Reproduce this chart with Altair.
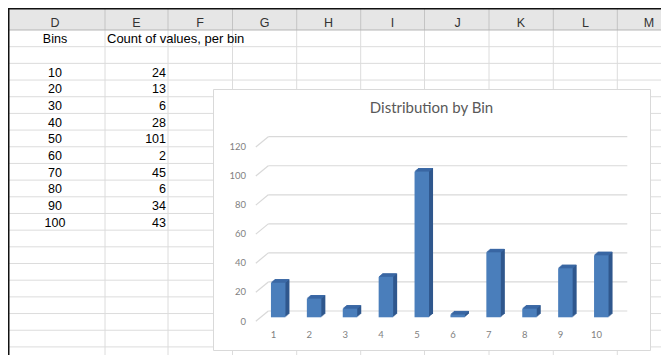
import altair as alt
import pandas as pd

# ---------------- values ----------------
bins = [10, 20, 30, 40, 50, 60, 70, 80, 90, 100]
counts = [24, 13, 6, 28, 101, 2, 45, 6, 34, 43]
bin_numbers = [1, 2, 3, 4, 5, 6, 7, 8, 9, 10]
y_ticks = [0, 20, 40, 60, 80, 100, 120]
col_letters = ["D", "E", "F", "G", "H", "I", "J", "K", "L", "M"]
bins_header = "Bins"
count_header = "Count of values, per bin"
chart_title = "Distribution by Bin"

# ---------------- layout (screenshot pixels, page margin 8) ----------------
M = 8
W, H = 653, 347
col_edges = [105, 168, 232.5, 296.7, 360.7, 424.5, 489, 553.3, 617.3]
letter_x = [55, 136.5, 200, 264.5, 328.5, 392.5, 457.5, 521, 585.5, 649]
ROW0, PITCH, N_ROWS = 30, 16.68, 19

SHEET_FONT = "Liberation Sans"
SHEET_SIZE = 12.5
CHART_FONT = "Lato"
FRONT, SIDE, TOP = "#4a7ebb", "#2f578d", "#3b69a6"
GRID = "#d9d9d9"
SHEET_LINE = "#dcdcdc"

px_x = alt.Scale(domain=[M, W + M], range=[0, W], nice=False, zero=False)
row_y = alt.Scale(domain=[0, N_ROWS], range=[ROW0 - M, ROW0 + PITCH * N_ROWS - M],
                  nice=False, zero=False)

one = pd.DataFrame({"t": [chart_title]})

# ---------------- spreadsheet ----------------
header_bg = alt.Chart(one).mark_rect(color="#e6e6e6").encode(
    x=alt.value(0), x2=alt.value(W), y=alt.value(0), y2=alt.value(22))

edges_df = pd.DataFrame({"edge": col_edges})
vlines = alt.Chart(edges_df).mark_rule(color=SHEET_LINE, strokeWidth=1).encode(
    x=alt.X("edge:Q", scale=px_x, axis=None), y=alt.value(22), y2=alt.value(H))
hsep = alt.Chart(edges_df).mark_rule(color="#c4c4c4", strokeWidth=1).encode(
    x=alt.X("edge:Q", scale=px_x, axis=None), y=alt.value(1), y2=alt.value(22))

rows_df = pd.DataFrame({"row": list(range(1, N_ROWS + 1))})
hlines = alt.Chart(rows_df).mark_rule(color=SHEET_LINE, strokeWidth=1).encode(
    y=alt.Y("row:Q", scale=row_y, axis=None), x=alt.value(0), x2=alt.value(W))
header_line = alt.Chart(one).mark_rule(color="#b5b5b5", strokeWidth=1).encode(
    y=alt.value(22), x=alt.value(0), x2=alt.value(W))
top_border = alt.Chart(one).mark_rule(color="#111111", strokeWidth=1.5).encode(
    y=alt.value(0.75), x=alt.value(0), x2=alt.value(W))
left_border = alt.Chart(one).mark_rule(color="#111111", strokeWidth=1.5).encode(
    x=alt.value(0.75), y=alt.value(0), y2=alt.value(H))

letters_df = pd.DataFrame({"letter": col_letters, "lx": letter_x})
letters = alt.Chart(letters_df).mark_text(
    font=SHEET_FONT, fontSize=SHEET_SIZE, color="#333333", align="center", baseline="middle"
).encode(x=alt.X("lx:Q", scale=px_x, axis=None), y=alt.value(15), text="letter:N")

d_df = pd.DataFrame({
    "pos": [0.5] + [r + 0.5 for r in range(2, 12)],
    "label": [bins_header] + [str(b) for b in bins],
})
col_d = alt.Chart(d_df).mark_text(
    font=SHEET_FONT, fontSize=SHEET_SIZE, color="black", align="center", baseline="middle", dy=1
).encode(x=alt.value(55 - M), y=alt.Y("pos:Q", scale=row_y, axis=None), text="label:N")

e_df = pd.DataFrame({"pos": [r + 0.5 for r in range(2, 12)], "label": [str(c) for c in counts]})
col_e = alt.Chart(e_df).mark_text(
    font=SHEET_FONT, fontSize=SHEET_SIZE, color="black", align="right", baseline="middle", dy=1
).encode(x=alt.value(166 - M), y=alt.Y("pos:Q", scale=row_y, axis=None), text="label:N")

eh_df = pd.DataFrame({"pos": [0.5], "label": [count_header]})
col_e_head = alt.Chart(eh_df).mark_text(
    font=SHEET_FONT, fontSize=SHEET_SIZE + 0.5, color="black", align="left", baseline="middle", dy=1
).encode(x=alt.value(107 - M), y=alt.Y("pos:Q", scale=row_y, axis=None), text="label:N")

# ---------------- embedded chart ----------------
frame = alt.Chart(one).mark_rect(fill="white", stroke="#d9d9d9", strokeWidth=1).encode(
    x=alt.value(205.5), x2=alt.value(642.5), y=alt.value(81.5), y2=alt.value(342.5))

title = alt.Chart(one).mark_text(
    font=CHART_FONT, fontSize=15, color="#595959", align="center", baseline="middle"
).encode(x=alt.value(423.5), y=alt.value(100.3), text="t:N")

ticks_df = pd.DataFrame({"tick": y_ticks})
grid_y = alt.Scale(domain=[0, 120], range=[303, 128.7], nice=False, zero=False)
gridlines = alt.Chart(ticks_df).mark_rule(color=GRID, strokeWidth=1.2).encode(
    y=alt.Y("tick:Q", scale=grid_y, axis=alt.Axis(
        values=y_ticks, orient="left", offset=-237.5, domain=False, ticks=False,
        tickSize=0, grid=False, labelPadding=0, labelOffset=10, labelFont=CHART_FONT,
        labelFontSize=9.5, labelColor="#7f7f7f", labelBaseline="middle", title=None,
        labelOverlap=False, zindex=2)),
    x=alt.value(260.3), x2=alt.value(619.3))
diagonals = alt.Chart(ticks_df).mark_rule(color=GRID, strokeWidth=1.2, y2Offset=10.3).encode(
    y=alt.Y("tick:Q", scale=grid_y, axis=None), y2="tick:Q",
    x=alt.value(260.3), x2=alt.value(247.8))

bars_df = pd.DataFrame({"bin_no": bin_numbers, "count": counts})
bar_x = alt.Scale(domain=bin_numbers, range=[252.25, 611.25], paddingInner=0, paddingOuter=0)
bar_y = alt.Scale(domain=[0, 120], range=[309.3, 136.1], nice=False, zero=True)
BW = 14.5
DX, DY = 4.0, 3.4

side_layers = []
for k in [1, 2, 3, 4]:
    side_layers.append(alt.Chart(bars_df).mark_bar(
        width=BW, color=SIDE, xOffset=DX * k / 4, x2Offset=DX * k / 4,
        yOffset=-DY * k / 4, y2Offset=-DY * k / 4
    ).encode(x=alt.X("bin_no:O", scale=bar_x, axis=None),
             y=alt.Y("count:Q", scale=bar_y, axis=None)))

top_layers = []
for k in [1, 2, 3, 4]:
    top_layers.append(alt.Chart(bars_df).mark_tick(
        orient="horizontal", size=BW, thickness=1.1, color=TOP, opacity=1,
        xOffset=DX * (k - 0.5) / 4, yOffset=-DY * (k - 0.5) / 4
    ).encode(x=alt.X("bin_no:O", scale=bar_x, axis=None),
             y=alt.Y("count:Q", scale=bar_y, axis=None)))

front = alt.Chart(bars_df).mark_bar(width=BW, color=FRONT).encode(
    x=alt.X("bin_no:O", scale=bar_x, axis=alt.Axis(
        orient="bottom", offset=-20.7, domain=False, ticks=False, tickSize=0, grid=False,
        labelPadding=0, labelOffset=-4.8, labelAngle=0, labelFont=CHART_FONT,
        labelFontSize=9.5, labelColor="#7f7f7f", labelBaseline="middle", title=None,
        zindex=2)),
    y=alt.Y("count:Q", scale=bar_y, axis=None))

layers = [header_bg, vlines, hlines, hsep, header_line, top_border, left_border,
          letters, col_d, col_e, col_e_head,
          frame, title, gridlines, diagonals] + side_layers + top_layers + [front]

chart = alt.layer(*layers).resolve_scale(x="independent", y="independent").properties(
    width=W, height=H, autosize=alt.AutoSizeParams(type="none"), padding=0,
    background="white"
).configure_view(stroke=None)

chart.save("out.html", embed_options={"renderer": "svg", "actions": False})
